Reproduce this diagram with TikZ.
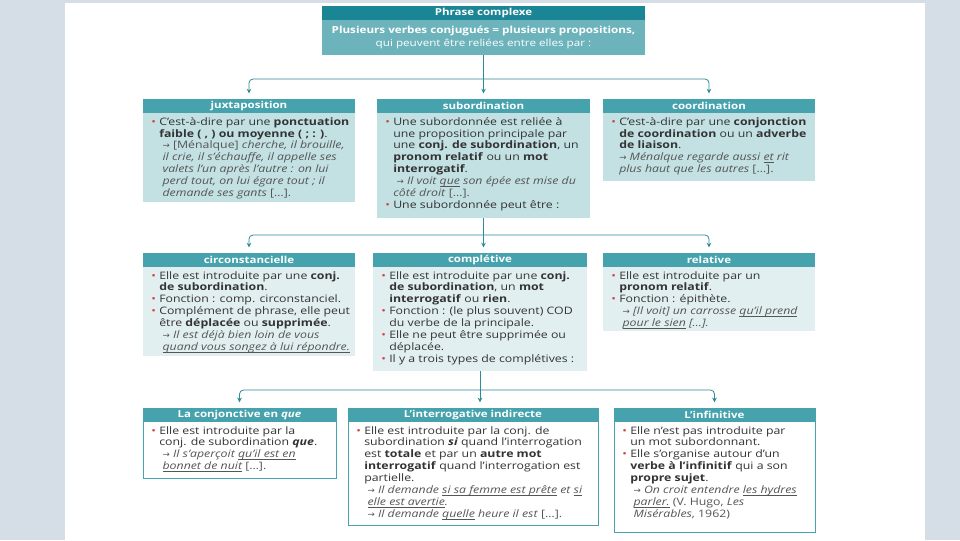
\documentclass[tikz,border=0pt]{standalone}
\usepackage{fontspec}
\setmainfont{Open Sans}[FakeStretch=1.2]
\newfontfamily\symf{DejaVu Sans}
\usetikzlibrary{arrows.meta,fit}
\definecolor{bggray}{HTML}{D5DEE7}
\definecolor{hdrdark}{HTML}{1A8595}
\definecolor{titlebody}{HTML}{6CB3BB}
\definecolor{hdrteal}{HTML}{46A3AE}
\definecolor{bodyone}{HTML}{C3E0E3}
\definecolor{bodytwo}{HTML}{E2EFF1}
\definecolor{txt}{HTML}{333333}
\definecolor{extxt}{HTML}{555555}
\definecolor{conncol}{HTML}{2C8C98}
\definecolor{bulred}{HTML}{D0473F}
\newcommand\bu{\makebox[6pt][l]{\textcolor{bulred}{\textbullet}}}
\newcommand\ci{\hspace*{6pt}}
\newcommand\ei{\hspace*{8.5pt}}
\newcommand\ar{{\symf\fontsize{6.5}{8}\selectfont →}\ }
\newcommand\und[1]{\setbox0\hbox{#1}\rlap{\rule[-1.5pt]{\wd0}{0.35pt}}\box0\relax}
\newcommand\ex[1]{{\color{extxt}#1}}
\newcommand\mkbox[8]{%
  \node[#8, fit={(#2,#3) (#5,#6)}] (#1) {};
  \node[hdrbox, fit={(#2,#3) (#5,#4)}] (#1h) {};
  \node[hdrtext] (#1l) at (#1h.center) {#7};
}
\tikzset{
  hdrbox/.style={fill=hdrteal, inner sep=0pt},
  hdrtext/.style={inner sep=0pt, text=white, font=\bfseries\fontsize{7.2}{9}\selectfont},
  lvone/.style={fill=bodyone, inner sep=0pt},
  lvtwo/.style={fill=bodytwo, inner sep=0pt},
  lvthree/.style={fill=white, draw=hdrteal, line width=0.6pt, inner sep=0pt},
  bodytxt/.style={anchor=north west, align=left, inner sep=0pt, text=txt, font=\fontsize{7.7}{8.9}\selectfont},
  conn/.style={draw=conncol, line width=0.6pt},
  arr/.style={conn, -{Stealth[length=3.5pt,width=3.5pt]}, shorten >=4pt, rounded corners=3pt}
}
\begin{document}
\begin{tikzpicture}[x=0.75pt,y=-0.75pt]
\fill[bggray] (0,0) rectangle (960,540);
\fill[white] (65,3) rectangle (925,540);
\useasboundingbox (0,0) rectangle (960,540);
% title
\node[fill=titlebody, inner sep=0pt, fit={(322,6) (645,55)}] (title) {};
\node[fill=hdrdark, inner sep=0pt, fit={(322,6) (645,20)}] (titleh) {};
\node[hdrtext] (titlel) at (titleh.center) {Phrase complexe};
\node[align=center, text=white, inner sep=0pt, font=\fontsize{7.3}{9.2}\selectfont] (titletxt) at (483.5,37.5) {\textbf{Plusieurs verbes conjugués = plusieurs propositions,}\\qui peuvent être reliées entre elles par :};
% level 1
\mkbox{juxta}{143}{99}{113}{355}{202}{juxtaposition}{lvone}
\mkbox{subo}{377}{99}{113}{590}{218}{subordination}{lvone}
\mkbox{coord}{603}{99}{113}{815}{181}{coordination}{lvone}
\node[bodytxt] (juxtat) at (151,117) {\bu C’est-à-dire par une \textbf{ponctuation}\\
\ci\textbf{faible ( , ) ou moyenne ( ; : )}.\\
\ei\ex{\ar [Ménalque] \textit{cherche, il brouille,}}\\
\ei\ex{\textit{il crie, il s’échauffe, il appelle ses}}\\
\ei\ex{\textit{valets l’un après l’autre : on lui}}\\
\ei\ex{\textit{perd tout, on lui égare tout ; il}}\\
\ei\ex{\textit{demande ses gants} […].}};
\node[bodytxt] (subot) at (385,117) {\bu Une subordonnée est reliée à\\
\ci une proposition principale par\\
\ci une \textbf{conj. de subordination}, un\\
\ci\textbf{pronom relatif} ou un \textbf{mot}\\
\ci\textbf{interrogatif}.\\
\ei\ex{\ar\textit{Il voit \und{que} son épée est mise du}}\\
\ci\ex{\textit{côté droit} […].}\\
\bu Une subordonnée peut être :};
\node[bodytxt] (coordt) at (611,117) {\bu C’est-à-dire par une \textbf{conjonction}\\
\ci\textbf{de coordination} ou un \textbf{adverbe}\\
\ci\textbf{de liaison}.\\
\ci\ex{\ar\textit{Ménalque regarde aussi \und{et} rit}}\\
\ci\ex{\textit{plus haut que les autres} […].}};
% level 2
\mkbox{circ}{143}{253}{267}{355}{356}{circonstancielle}{lvtwo}
\mkbox{compl}{373}{253}{267}{587}{371}{complétive}{lvtwo}
\mkbox{rel}{603}{253}{267}{815}{331}{relative}{lvtwo}
\node[bodytxt] (circt) at (151,271) {\bu Elle est introduite par une \textbf{conj.}\\
\ci\textbf{de subordination}.\\
\bu Fonction : comp. circonstanciel.\\
\bu Complément de phrase, elle peut\\
\ci être \textbf{déplacée} ou \textbf{supprimée}.\\
\ei\ex{\ar\textit{Il est déjà bien loin de vous}}\\
\ei\ex{\textit{\und{quand vous songez à lui répondre.}}}};
\node[bodytxt] (complt) at (381,271) {\bu Elle est introduite par une \textbf{conj.}\\
\ci\textbf{de subordination}, un \textbf{mot}\\
\ci\textbf{interrogatif} ou \textbf{rien}.\\
\bu Fonction : (le plus souvent) COD\\
\ci du verbe de la principale.\\
\bu Elle ne peut être supprimée ou\\
\ci déplacée.\\
\bu Il y a trois types de complétives :};
\node[bodytxt] (relt) at (611,271) {\bu Elle est introduite par un\\
\ci\textbf{pronom relatif}.\\
\bu Fonction : épithète.\\
\ei\ex{\ar\textit{[Il voit] un carrosse \und{qu’il prend}}}\\
\ei\ex{\textit{\und{pour le sien} […].}}};
% level 3
\mkbox{conj}{143}{408}{422}{336}{478}{La conjonctive en \textit{que}}{lvthree}
\mkbox{inter}{348}{408}{422}{598}{525}{L’interrogative indirecte}{lvthree}
\mkbox{inf}{614}{408}{422}{815}{532}{L’infinitive}{lvthree}
\node[bodytxt] (conjt) at (151,426) {\bu Elle est introduite par la\\
\ci conj. de subordination \textbf{\textit{que}}.\\
\ei\ex{\ar\textit{Il s’aperçoit \und{qu’il est en}}}\\
\ei\ex{\textit{\und{bonnet de nuit}} […].}};
\node[bodytxt] (intert) at (356,426) {\bu Elle est introduite par la conj. de\\
\ci subordination \textbf{\textit{si}} quand l’interrogation\\
\ci est \textbf{totale} et par un \textbf{autre mot}\\
\ci\textbf{interrogatif} quand l’interrogation est\\
\ci partielle.\\
\ei\ex{\ar\textit{Il demande \und{si sa femme est prête} et \und{si}}}\\
\ei\ex{\textit{\und{elle est avertie}.}}\\
\ei\ex{\ar\textit{Il demande \und{quelle} heure il est} […].}};
\node[bodytxt] (inft) at (622,426) {\bu Elle n’est pas introduite par\\
\ci un mot subordonnant.\\
\bu Elle s’organise autour d’un\\
\ci\textbf{verbe à l’infinitif} qui a son\\
\ci\textbf{propre sujet}.\\
\ei\ex{\ar\textit{On croit entendre \und{les hydres}}}\\
\ei\ex{\textit{\und{parler.}} (V. Hugo, \textit{Les}}\\
\ei\ex{\textit{Misérables}, 1962)}};
% connectors
\coordinate (j1) at (483.5,79);
\coordinate (j2) at (483.5,235);
\coordinate (j3) at (480,390);
\draw[conn] (title.south) -- (j1);
\draw[arr] (j1) -| (juxta.north);
\draw[arr] (j1) -- (j1 |- subo.north);
\draw[arr] (j1) -| (coord.north);
\draw[conn] (subo.south) -- (j2);
\draw[arr] (j2) -| (circ.north);
\draw[arr] (j2) -- (j2 |- compl.north);
\draw[arr] (j2) -| (rel.north);
\draw[conn] (j3 |- compl.south) -- (j3);
\draw[arr] (j3) -| (conj.north);
\draw[arr] (j3) -- (j3 |- inter.north);
\draw[arr] (j3) -| (inf.north);
\end{tikzpicture}
\end{document}
